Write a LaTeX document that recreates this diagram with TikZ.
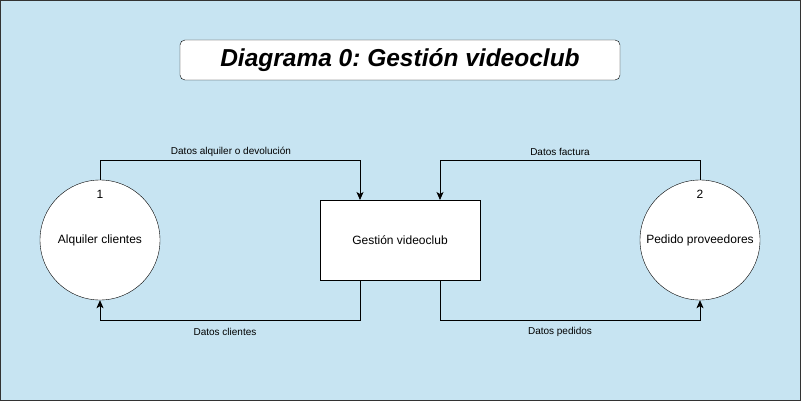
\documentclass[tikz,border=0pt]{standalone}
\usepackage{fontspec}
\setmainfont{Liberation Sans}
\usetikzlibrary{arrows.meta}
\definecolor{bgblue}{HTML}{C7E4F2}
\definecolor{frame}{HTML}{333333}
\frenchspacing
\tikzset{
  proc/.style={circle, draw=black, fill=white, minimum size=120pt, inner sep=0pt, font=\fontsize{12}{14}\selectfont},
  store/.style={rectangle, draw=black, fill=white, minimum width=160pt, minimum height=80pt, inner sep=0pt, font=\fontsize{12}{14}\selectfont},
  titlebox/.style={rectangle, rounded corners=5pt, draw=black, fill=white, minimum width=440pt, minimum height=40pt, inner sep=0pt, font=\fontsize{24}{28}\selectfont\bfseries\itshape},
  flow/.style={draw=black, line width=0.8pt, -{Stealth[length=8pt,width=7pt,inset=2pt]}},
  flowlabel/.style={font=\fontsize{10}{12}\selectfont, inner sep=0pt},
  numlabel/.style={font=\fontsize{12}{14}\selectfont, inner sep=0pt}
}
\begin{document}
\begin{tikzpicture}[x=1pt,y=-1pt]
  \useasboundingbox (0,0) rectangle (801,401);
  \fill[bgblue] (0,0) rectangle (801,401);
  \draw[frame, line width=1pt] (0.5,0.5) rectangle (800.5,400.5);

  \node[titlebox] (title) at (400,60) {\fontsize{24.5}{28}\selectfont Diagrama 0: Gestión videoclub};

  \node[proc] (p1) at (100,240) {Alquiler clientes};
  \node[numlabel] (n1) at (100,194) {1};
  \node[proc] (p2) at (700,240) {Pedido proveedores};
  \node[numlabel] (n2) at (700,194) {2};
  \node[store] (gv) at (400,240) {Gestión videoclub};

  \coordinate (gvtl) at (360,200);
  \coordinate (gvtr) at (440,200);
  \coordinate (gvbl) at (360,280);
  \coordinate (gvbr) at (440,280);

  \draw[flow] (p1.north) -- (100,160) -- (360,160) -- (gvtl);
  \draw[flow] (gvbl) -- (360,320) -- (100,320) -- (p1.south);
  \draw[flow] (p2.north) -- (700,160) -- (440,160) -- (gvtr);
  \draw[flow] (gvbr) -- (440,320) -- (700,320) -- (p2.south);

  \node[flowlabel] (l1) at (231,152) {Datos alquiler o devolución};
  \node[flowlabel] (l2) at (225,332) {Datos clientes};
  \node[flowlabel] (l3) at (560,152) {Datos factura};
  \node[flowlabel] (l4) at (560,332) {Datos pedidos};
\end{tikzpicture}
\end{document}
